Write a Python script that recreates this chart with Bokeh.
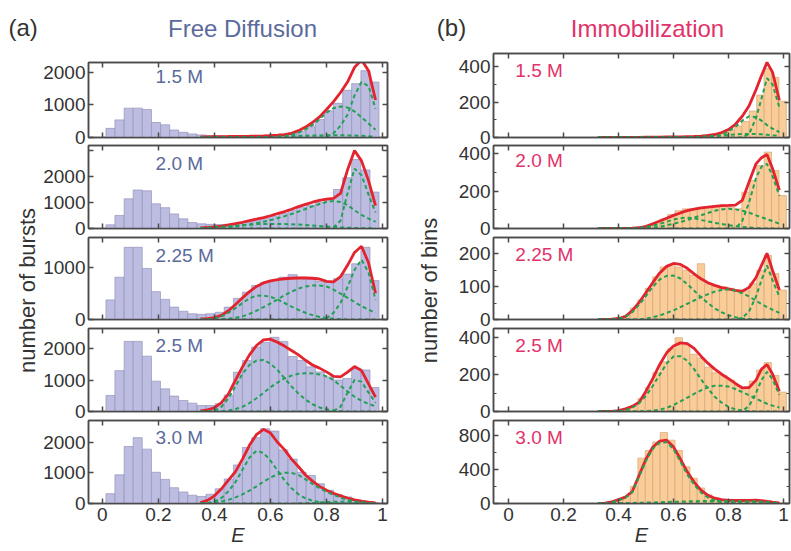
import math
from bokeh.plotting import figure
from bokeh.layouts import column, row
from bokeh.models import Range1d, LinearAxis, Label, FixedTicker
from bokeh.embed import file_html
from bokeh.resources import INLINE

FONT = "Liberation Sans"

# ---------------- data ----------------
FD_BINS = [0.029, 0.061, 0.094, 0.126, 0.159, 0.191, 0.224, 0.256, 0.289, 0.321,
           0.354, 0.386, 0.419, 0.451, 0.484, 0.516, 0.549, 0.581, 0.614, 0.646,
           0.679, 0.711, 0.744, 0.776, 0.809, 0.841, 0.874, 0.906, 0.939, 0.971]
IM_BINS = [0.322, 0.349, 0.376, 0.403, 0.430, 0.457, 0.484, 0.511, 0.538, 0.565,
           0.592, 0.619, 0.646, 0.673, 0.700, 0.727, 0.754, 0.781, 0.808, 0.835,
           0.862, 0.889, 0.916, 0.943, 0.970, 0.997]
FD_E = [0.35, 0.375, 0.40, 0.425, 0.45, 0.475, 0.50, 0.525, 0.55, 0.575, 0.60, 0.625, 0.65,
        0.675, 0.70, 0.725, 0.75, 0.775, 0.80, 0.825, 0.85, 0.875, 0.90, 0.925, 0.95, 0.975]
IM_E = [0.325, 0.35, 0.375, 0.40, 0.425, 0.45, 0.475, 0.50, 0.525, 0.55, 0.575, 0.60, 0.625,
        0.65, 0.675, 0.70, 0.725, 0.75, 0.775, 0.80, 0.825, 0.85, 0.875, 0.90, 0.92, 0.94, 0.96, 0.985]
X_TICKS = [0, 0.2, 0.4, 0.6, 0.8, 1]
CONCS = ["1.5 M", "2.0 M", "2.25 M", "2.5 M", "3.0 M"]

# Free diffusion (number of bursts)
FD15_BARS = [280, 540, 900, 900, 860, 460, 390, 230, 160, 110, 80, 60, 50, 45, 45,
             50, 55, 60, 70, 100, 140, 200, 330, 550, 820, 1050, 1450, 1650, 2050, 1700]
FD15_FIT = [20, 22, 25, 28, 30, 33, 36, 40, 45, 50, 60, 70, 90, 130, 210, 320, 460, 630,
            860, 1100, 1380, 1700, 2150, 2380, 2050, 1150]
FD15_C1 = [0, 0, 0, 1, 2, 3, 4, 5, 7, 10, 15, 22, 30, 40, 50, 55, 60, 65, 70, 70, 70, 65, 60, 50, 40, 30]
FD15_C2 = [0, 0, 0, 0, 0, 1, 2, 3, 4, 6, 10, 20, 40, 80, 150, 250, 380, 560, 760, 900, 950, 920, 800, 620, 430, 240]
FD15_C3 = [0, 0, 0, 0, 0, 0, 0, 0, 0, 0, 0, 0, 0, 0, 0, 0, 0, 0, 20, 130, 360, 700, 1290, 1700, 1580, 880]

FD20_BARS = [140, 500, 1140, 1480, 1450, 950, 800, 560, 370, 230, 180, 160, 150, 160, 190,
             240, 300, 380, 470, 580, 700, 820, 900, 1000, 1100, 1500, 1950, 2650, 2250, 1400]
FD20_FIT = [20, 40, 65, 95, 135, 185, 240, 300, 360, 420, 490, 570, 650, 740, 840, 930, 1010,
            1080, 1130, 1160, 1350, 2250, 3000, 2600, 1840, 880]
FD20_C1 = [15, 28, 45, 65, 85, 108, 130, 148, 165, 172, 175, 173, 170, 160, 150, 135, 120, 100, 80, 62, 45, 32, 20, 13, 8, 5]
FD20_C2 = [5, 12, 20, 35, 50, 80, 110, 155, 200, 260, 320, 395, 470, 560, 650, 750, 850, 940, 1020, 1060, 1020, 900, 700, 520, 380, 260]
FD20_C3 = [0, 0, 0, 0, 0, 0, 0, 0, 0, 0, 0, 0, 0, 0, 0, 0, 0, 0, 0, 40, 300, 1350, 2300, 2050, 1300, 620]

FD225_BARS = [380, 820, 1400, 1400, 990, 540, 390, 240, 160, 110, 100, 110, 140, 240, 410,
              530, 660, 720, 755, 820, 870, 820, 790, 740, 720, 790, 880, 1080, 1400, 755]
FD225_FIT = [10, 15, 35, 80, 170, 290, 420, 540, 640, 710, 750, 775, 790, 800, 805, 805, 800,
             785, 740, 730, 830, 1050, 1300, 1420, 1100, 510]
FD225_C1 = [0, 0, 20, 60, 130, 220, 320, 410, 460, 465, 440, 390, 320, 250, 185, 130, 85, 50, 28, 14, 6, 2, 0, 0, 0, 0]
FD225_C2 = [0, 0, 0, 3, 15, 35, 60, 110, 170, 240, 310, 390, 470, 540, 600, 640, 660, 660, 640, 580, 500, 420, 340, 260, 190, 130]
FD225_C3 = [0, 0, 0, 0, 0, 0, 0, 0, 0, 0, 0, 0, 0, 0, 0, 0, 0, 0, 20, 130, 320, 630, 960, 1160, 910, 380]

FD25_BARS = [510, 1300, 2230, 2230, 1760, 965, 720, 490, 350, 265, 190, 190, 250, 520, 1250,
             1620, 2050, 2200, 2360, 2230, 1750, 1620, 1420, 1260, 1100, 1000, 1050, 1380, 1320, 760]
FD25_FIT = [20, 50, 120, 280, 560, 1000, 1420, 1800, 2100, 2280, 2300, 2200, 2080, 1940, 1800,
            1630, 1480, 1380, 1260, 1120, 1100, 1250, 1430, 1300, 880, 455]
FD25_C1 = [0, 5, 30, 150, 420, 800, 1200, 1480, 1620, 1640, 1520, 1320, 1060, 800, 570, 380, 230, 130, 70, 30, 10, 3, 0, 0, 0, 0]
FD25_C2 = [0, 0, 0, 5, 30, 80, 150, 270, 420, 590, 770, 920, 1050, 1140, 1200, 1220, 1210, 1180, 1120, 1000, 820, 640, 470, 340, 240, 165]
FD25_C3 = [0, 0, 0, 0, 0, 0, 0, 0, 0, 0, 0, 0, 0, 0, 0, 0, 0, 0, 0, 20, 150, 600, 1000, 950, 600, 280]

FD30_BARS = [320, 935, 1860, 2150, 1775, 1020, 785, 515, 375, 270, 230, 300, 480, 800, 1260,
             1830, 2150, 2440, 2365, 1750, 1450, 1020, 915, 645, 430, 290, 215, 110, 55, 30]
FD30_FIT = [30, 100, 250, 480, 760, 1040, 1450, 1900, 2250, 2420, 2300, 2000, 1760, 1450, 1200,
            930, 730, 560, 430, 330, 250, 180, 120, 75, 45, 20]
FD30_C1 = [0, 10, 60, 180, 400, 700, 1100, 1500, 1720, 1650, 1400, 1080, 760, 500, 300, 170, 90, 45, 20, 8, 3, 0, 0, 0, 0, 0]
FD30_C2 = [0, 10, 30, 70, 120, 200, 300, 420, 560, 710, 850, 950, 1000, 1000, 930, 790, 640, 500, 380, 280, 190, 120, 70, 40, 20, 10]
FD30_C3 = [0, 0, 0, 0, 0, 0, 0, 0, 0, 0, 0, 0, 0, 0, 5, 10, 20, 30, 45, 55, 60, 58, 45, 32, 20, 12]

# Immobilization (number of bins)
IM15_BARS = [0, 0, 0, 0, 1, 1, 1, 2, 2, 2, 3, 3, 4, 5, 7, 10, 15, 25, 40, 65, 90, 150, 240, 390, 340, 205]
IM15_FIT = [0, 0, 0, 1, 1, 1, 1, 2, 2, 2, 3, 3, 4, 5, 6, 8, 12, 17, 28, 45, 75, 120, 180, 270, 350, 425, 370, 210]
IM15_C1 = [0, 0, 0, 0, 0, 0, 0, 0, 0, 0, 0, 1, 1, 2, 3, 5, 7, 10, 12, 15, 17, 20, 20, 20, 18, 15, 12, 10]
IM15_C2 = [0, 0, 0, 0, 0, 0, 0, 0, 0, 0, 0, 0, 0, 0, 0, 2, 3, 5, 15, 35, 60, 95, 120, 115, 95, 70, 50, 30]
IM15_C3 = [0, 0, 0, 0, 0, 0, 0, 0, 0, 0, 0, 0, 0, 0, 0, 0, 0, 0, 0, 0, 0, 0, 20, 110, 220, 335, 300, 170]

IM20_BARS = [0, 0, 0, 1, 2, 3, 6, 15, 30, 50, 75, 95, 105, 105, 105, 114, 117, 123, 114, 105, 194, 256, 336, 408, 310, 176]
IM20_FIT = [0, 0, 0, 1, 1, 2, 4, 12, 25, 40, 55, 70, 83, 95, 103, 110, 114, 118, 122, 123, 125, 150, 250, 345, 378, 395, 320, 205]
IM20_C1 = [0, 0, 0, 0, 0, 0, 3, 8, 15, 25, 36, 48, 55, 58, 55, 45, 38, 30, 24, 18, 12, 8, 5, 2, 1, 0, 0, 0]
IM20_C2 = [0, 0, 0, 0, 0, 0, 0, 2, 5, 10, 17, 25, 35, 45, 58, 70, 83, 95, 102, 105, 102, 95, 85, 70, 60, 50, 40, 25]
IM20_C3 = [0, 0, 0, 0, 0, 0, 0, 0, 0, 0, 0, 0, 0, 0, 0, 0, 0, 0, 0, 0, 0, 40, 140, 270, 330, 345, 280, 175]

IM225_BARS = [0, 0, 1, 3, 12, 35, 60, 95, 130, 160, 168, 160, 150, 135, 170, 108, 103, 100, 95, 90, 88, 110, 150, 195, 140, 90]
IM225_FIT = [0, 0, 1, 3, 9, 27, 52, 82, 113, 142, 162, 171, 168, 156, 139, 124, 112, 104, 97, 93, 89, 86, 98, 128, 165, 202, 150, 90]
IM225_C1 = [0, 0, 0, 2, 8, 22, 45, 72, 100, 122, 133, 134, 125, 108, 88, 68, 50, 34, 22, 13, 7, 3, 1, 0, 0, 0, 0, 0]
IM225_C2 = [0, 0, 0, 0, 0, 0, 0, 3, 7, 12, 20, 28, 38, 48, 58, 68, 77, 85, 90, 92, 88, 80, 70, 57, 47, 38, 30, 20]
IM225_C3 = [0, 0, 0, 0, 0, 0, 0, 0, 0, 0, 0, 0, 0, 0, 0, 0, 0, 0, 0, 0, 0, 5, 25, 70, 120, 165, 120, 70]

IM25_BARS = [0, 0, 1, 3, 12, 30, 70, 130, 210, 270, 340, 400, 360, 310, 290, 240, 210, 195, 170, 140, 125, 165, 225, 265, 195, 105]
IM25_FIT = [0, 0, 1, 5, 14, 28, 50, 110, 180, 255, 318, 355, 372, 368, 342, 300, 262, 230, 202, 178, 152, 128, 130, 170, 230, 255, 203, 110]
IM25_C1 = [0, 0, 0, 2, 8, 20, 45, 85, 140, 200, 260, 298, 300, 275, 230, 175, 125, 80, 48, 25, 12, 5, 2, 0, 0, 0, 0, 0]
IM25_C2 = [0, 0, 0, 0, 0, 0, 0, 2, 5, 10, 20, 35, 55, 75, 95, 115, 130, 140, 140, 135, 122, 105, 88, 70, 55, 42, 32, 22]
IM25_C3 = [0, 0, 0, 0, 0, 0, 0, 0, 0, 0, 0, 0, 0, 0, 0, 0, 0, 0, 0, 0, 0, 3, 30, 100, 170, 215, 175, 90]

IM30_BARS = [0, 3, 15, 40, 80, 200, 530, 620, 720, 830, 740, 620, 430, 296, 181, 100, 60, 42, 36, 33, 33, 36, 36, 30, 20, 8]
IM30_FIT = [0, 5, 20, 45, 75, 140, 330, 520, 660, 730, 740, 662, 520, 370, 250, 155, 95, 62, 45, 37, 35, 35, 37, 38, 33, 25, 15, 3]
IM30_C1 = [0, 3, 15, 38, 68, 130, 315, 500, 640, 710, 715, 635, 490, 340, 220, 128, 70, 35, 16, 6, 2, 0, 0, 0, 0, 0, 0, 0]
IM30_C2 = [0, 0, 1, 3, 4, 6, 8, 10, 12, 15, 17, 20, 22, 25, 27, 28, 28, 28, 28, 28, 27, 25, 22, 18, 15, 12, 8, 5]
IM30_C3 = [0, 0, 0, 0, 0, 0, 0, 0, 0, 0, 0, 0, 0, 0, 0, 0, 0, 0, 0, 3, 8, 15, 22, 25, 23, 18, 10, 3]

FD_DATA = [
    (FD15_BARS, FD15_FIT, [FD15_C1, FD15_C2, FD15_C3]),
    (FD20_BARS, FD20_FIT, [FD20_C1, FD20_C2, FD20_C3]),
    (FD225_BARS, FD225_FIT, [FD225_C1, FD225_C2, FD225_C3]),
    (FD25_BARS, FD25_FIT, [FD25_C1, FD25_C2, FD25_C3]),
    (FD30_BARS, FD30_FIT, [FD30_C1, FD30_C2, FD30_C3]),
]
IM_DATA = [
    (IM15_BARS, IM15_FIT, [IM15_C1, IM15_C2, IM15_C3]),
    (IM20_BARS, IM20_FIT, [IM20_C1, IM20_C2, IM20_C3]),
    (IM225_BARS, IM225_FIT, [IM225_C1, IM225_C2, IM225_C3]),
    (IM25_BARS, IM25_FIT, [IM25_C1, IM25_C2, IM25_C3]),
    (IM30_BARS, IM30_FIT, [IM30_C1, IM30_C2, IM30_C3]),
]
FD_YTICKS = [[0, 1000, 2000], [0, 1000, 2000, 3000], [0, 1000], [0, 1000, 2000], [0, 1000, 2000]]
FD_YLABELED = [[0, 1000, 2000], [0, 1000, 2000], [0, 1000], [0, 1000, 2000], [0, 1000, 2000]]
IM_YTICKS = [[0, 200, 400], [0, 200, 400], [0, 100, 200], [0, 200, 400], [0, 400, 800]]
IM_YMINOR = [[100, 300], [100, 300], [50, 150], [100, 300], [200, 600]]

# ---------------- styling / layout ----------------
AX = "#4a4a4a"
RED = "#e3232e"
GREEN = "#22a055"
BLUE_T = "#5b6a9c"
PINK_T = "#e2326a"
FD_FILL, FD_EDGE = "#bdbde2", "#9494bc"
IM_FILL, IM_EDGE = "#f9cc98", "#d4a77c"

FD_YMAX = [2300, 3190, 1590, 2640, 2710]
IM_YMAX = [475, 443, 250, 450, 970]

# (top border, frame height, bottom border, margin-top) for each row
FD_ROWS = [(12, 75, 14, 0), (14, 83, 14, -20), (14, 82, 14, -19), (14, 83, 14, -19), (14, 83, 48, -19)]
IM_ROWS = [(3, 84, 14, 0), (14, 83, 14, -20), (14, 82, 14, -19), (14, 83, 14, -19), (14, 83, 48, -19)]
FD_LABEL_OFF = [14, 18, 18, 17, 17]
IM_LABEL_OFF = [17, 15, 17, 17, 17]


def style_axis(ax, ticks, minor, labels):
    ax.ticker = FixedTicker(ticks=ticks, minor_ticks=minor)
    ax.axis_line_color = AX
    ax.axis_line_width = 1.5
    ax.major_tick_line_color = AX
    ax.major_tick_line_width = 1.5
    ax.minor_tick_line_color = AX
    ax.minor_tick_line_width = 1.2
    ax.major_tick_in = 5
    ax.major_tick_out = 0
    ax.minor_tick_in = 3
    ax.minor_tick_out = 0
    if labels is None:
        ax.major_label_text_font_size = "0px"
        ax.major_label_standoff = 0
        ax.major_label_overrides = {t: "" for t in ticks}
    else:
        ax.major_label_text_font = FONT
        ax.major_label_text_font_size = "19px"
        ax.major_label_text_color = "#333333"
        ax.major_label_standoff = 3
        ax.major_label_overrides = {t: ("" if t not in labels else
                                        ("1" if t == 1 else ("0" if t == 0 else str(t))))
                                    for t in ticks}


def make_panel(i, xr, bins, bw, fill, edge, curve_e, data, ymax, yticks, ylabeled, yminor,
               rows, lab_x, lab_off, lab_col, left, fw, right):
    top, fh, bottom, mtop = rows[i]
    bars, fit, comps = data
    p = figure(width=left + fw + right, height=top + fh + bottom,
               x_range=Range1d(*xr), y_range=Range1d(0, ymax),
               output_backend="svg", toolbar_location=None,
               min_border_left=left, min_border_right=right,
               min_border_top=top, min_border_bottom=bottom,
               margin=(mtop, 0, 0, 0))
    p.grid.visible = False
    p.outline_line_color = AX
    p.outline_line_width = 1.5
    p.background_fill_color = "white"
    p.border_fill_color = None

    p.vbar(x=bins, width=bw, top=bars, bottom=0, fill_color=fill, line_color=edge, line_width=0.7)
    p.line(curve_e, fit, line_color=RED, line_width=2.8)
    for c in comps:
        p.line(curve_e, c, line_color=GREEN, line_width=2, line_dash="4 3")

    last = (i == 4)
    x_bottom = p.below[0]
    y_left = p.left[0]
    style_axis(x_bottom, X_TICKS, [], X_TICKS if last else None)
    style_axis(y_left, yticks, yminor, ylabeled)
    ax_top = LinearAxis()
    style_axis(ax_top, X_TICKS, [], None)
    p.add_layout(ax_top, "above")
    ax_r = LinearAxis()
    style_axis(ax_r, yticks, yminor, None)
    p.add_layout(ax_r, "right")
    if last:
        x_bottom.major_label_standoff = 4
        x_bottom.axis_label = "E"
        x_bottom.axis_label_text_font = FONT
        x_bottom.axis_label_text_font_style = "italic"
        x_bottom.axis_label_text_font_size = "20px"
        x_bottom.axis_label_text_color = "#333333"
        x_bottom.axis_label_standoff = 0

    p.add_layout(Label(x=lab_x, y=ymax * (1 - lab_off / fh), text=CONCS[i],
                       text_font=FONT, text_font_size="19px", text_color=lab_col,
                       text_align="left", text_baseline="middle"))
    return p


left_figs = [make_panel(i, (-0.0496, 1.0177), FD_BINS, 0.0325, FD_FILL, FD_EDGE, FD_E,
                        FD_DATA[i], FD_YMAX[i], FD_YTICKS[i], FD_YLABELED[i], [],
                        FD_ROWS, 0.19, FD_LABEL_OFF[i], BLUE_T, 46, 301, 3)
             for i in range(5)]
right_figs = [make_panel(i, (-0.0545, 1.0218), IM_BINS, 0.027, IM_FILL, IM_EDGE, IM_E,
                         IM_DATA[i], IM_YMAX[i], IM_YTICKS[i], IM_YTICKS[i], IM_YMINOR[i],
                         IM_ROWS, 0.025, IM_LABEL_OFF[i], PINK_T, 48, 296, 2)
              for i in range(5)]


def blank(w, h):
    f = figure(width=w, height=h, x_range=Range1d(0, w), y_range=Range1d(h, 0),
               output_backend="svg", toolbar_location=None, min_border=0,
               x_axis_type=None, y_axis_type=None)
    f.grid.visible = False
    f.outline_line_color = None
    f.background_fill_color = None
    f.border_fill_color = None
    return f


header = blank(791, 50)
for x, y, t, col, al in [(8, 27, "(a)", "#333333", "left"),
                         (242, 28, "Free Diffusion", BLUE_T, "center"),
                         (451, 27, "(b)", "#333333", "center"),
                         (647, 28, "Immobilization", PINK_T, "center")]:
    header.add_layout(Label(x=x, y=y, text=t, text_font=FONT, text_font_size="24px",
                            text_color=col, text_align=al, text_baseline="middle"))

strip_l = blank(40, 501)
strip_l.add_layout(Label(x=27, y=240, text="number of bursts", angle=math.pi / 2,
                         text_font=FONT, text_font_size="22px", text_color="#333333",
                         text_align="center", text_baseline="middle"))
strip_r = blank(55, 501)
strip_r.add_layout(Label(x=39, y=240, text="number of bins", angle=math.pi / 2,
                         text_font=FONT, text_font_size="22px", text_color="#333333",
                         text_align="center", text_baseline="middle"))

layout = column(header,
                row(strip_l, column(*left_figs, spacing=0), strip_r, column(*right_figs, spacing=0),
                    spacing=0),
                spacing=0)

open("out.html", "w").write(file_html(layout, INLINE))
